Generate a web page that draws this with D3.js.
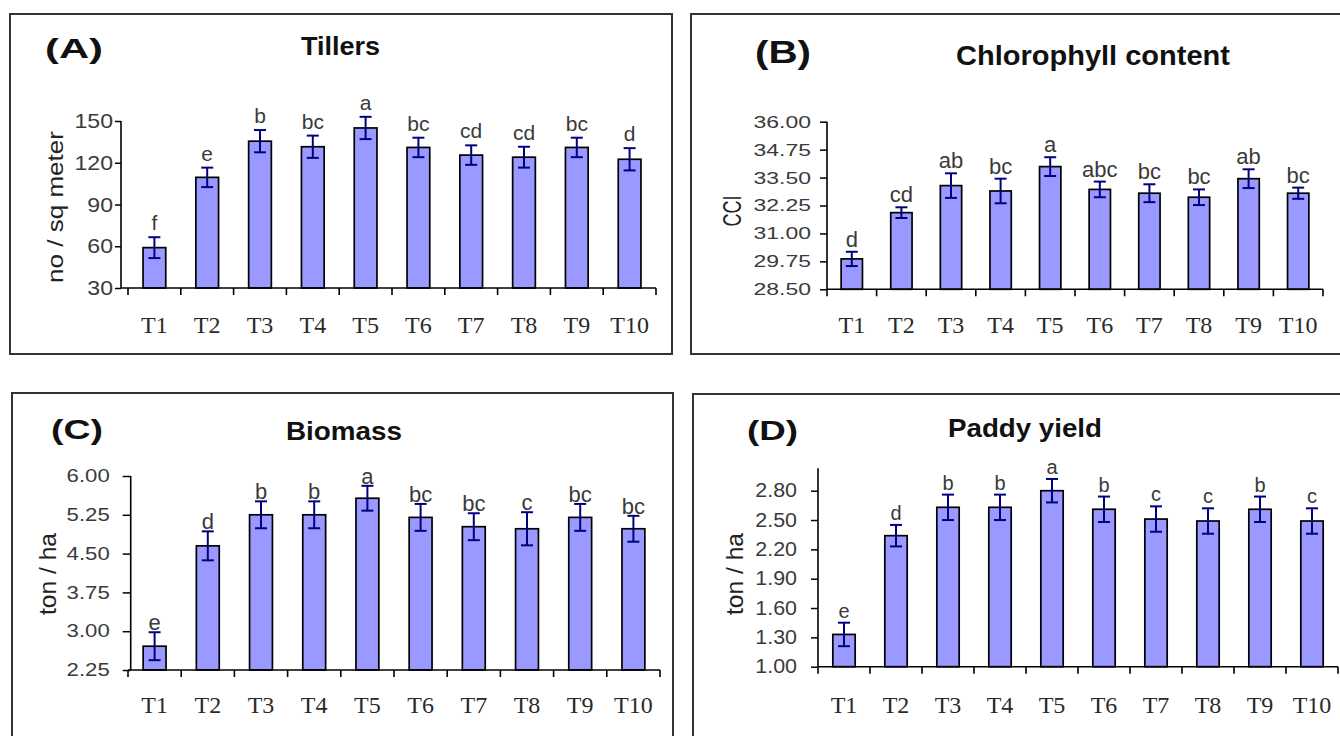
<!DOCTYPE html>
<html>
<head>
<meta charset="utf-8">
<script src="https://cdn.jsdelivr.net/npm/d3@7"></script>
<style>
  html, body { margin: 0; padding: 0; background: #fff; }
  svg { display: block; }
</style>
</head>
<body>
<svg id="chart" width="1340" height="736"></svg>
<script>
// Treatments shared by all four panels
const treatments = ["T1", "T2", "T3", "T4", "T5", "T6", "T7", "T8", "T9", "T10"];

// (A) Tillers, no / sq meter
const tillersMean    = [59, 109.5, 135.5, 131.5, 145, 131, 125.5, 124, 131, 122.5];
const tillersErr     = [7.5, 7, 8, 8, 8, 7, 7, 7.5, 7, 8];
const tillersLetters = ["f", "e", "b", "bc", "a", "bc", "cd", "cd", "bc", "d"];
const tillersTicks   = [30, 60, 90, 120, 150];

// (B) Chlorophyll content, CCI
const chlorophyllMean    = [29.86, 31.93, 33.14, 32.90, 33.99, 32.97, 32.80, 32.62, 33.45, 32.80];
const chlorophyllErr     = [0.32, 0.24, 0.55, 0.55, 0.42, 0.35, 0.40, 0.35, 0.42, 0.25];
const chlorophyllLetters = ["d", "cd", "ab", "bc", "a", "abc", "bc", "bc", "ab", "bc"];
const chlorophyllTicks   = [28.5, 29.75, 31, 32.25, 33.5, 34.75, 36];

// (C) Biomass, ton / ha
const biomassMean    = [2.71, 4.65, 5.25, 5.25, 5.57, 5.20, 5.02, 4.98, 5.20, 4.98];
const biomassErr     = [0.27, 0.28, 0.26, 0.26, 0.24, 0.26, 0.26, 0.32, 0.26, 0.25];
const biomassLetters = ["e", "d", "b", "b", "a", "bc", "bc", "c", "bc", "bc"];
const biomassTicks   = [2.25, 3, 3.75, 4.5, 5.25, 6];

// (D) Paddy yield, ton / ha
const yieldMean    = [1.33, 2.34, 2.63, 2.63, 2.80, 2.61, 2.51, 2.49, 2.61, 2.49];
const yieldErr     = [0.12, 0.11, 0.13, 0.13, 0.12, 0.13, 0.13, 0.13, 0.13, 0.13];
const yieldLetters = ["e", "d", "b", "b", "a", "b", "c", "c", "b", "c"];
const yieldTicks   = [1.0, 1.3, 1.6, 1.9, 2.2, 2.5, 2.8];

// Panel definitions: data plus frame geometry and type settings
const panels = [
  {
    tag: "(A)", title: "Tillers", yTitle: "no / sq meter",
    mean: tillersMean, err: tillersErr, letters: tillersLetters, ticks: tillersTicks,
    fmt: d3.format("d"), domain: [30, 150], axisTop: 150,
    box: [10, 14, 672, 354], axisX: 121, xRange: [128, 656], yRange: [288, 121],
    tag_: { x: 45, y: 58, size: 28, w: 58 },
    title_: { x: 301, y: 55, size: 26, w: 79 },
    yTitle_: { x: 63, y: 207, size: 22, w: 152 },
    yTick_: { size: 21, stretch: 1.1, len: 6, pad: 2 },
    xLabelY: 333, letterSize: 21, letterGap: 7
  },
  {
    tag: "(B)", title: "Chlorophyll content", yTitle: "CCI",
    mean: chlorophyllMean, err: chlorophyllErr, letters: chlorophyllLetters, ticks: chlorophyllTicks,
    fmt: d3.format(".2f"), domain: [28.5, 36], axisTop: 36,
    box: [691, 14, 1350, 354], axisX: 827, xRange: [827, 1323], yRange: [289.3, 121.7],
    tag_: { x: 755, y: 63, size: 31, w: 56 },
    title_: { x: 956, y: 65, size: 27, w: 274 },
    yTitle_: { x: 741, y: 211, size: 25, w: 31 },
    yTick_: { size: 17, stretch: 1.35, len: 7, pad: 9 },
    xLabelY: 333, letterSize: 22, letterGap: 5
  },
  {
    tag: "(C)", title: "Biomass", yTitle: "ton / ha",
    mean: biomassMean, err: biomassErr, letters: biomassLetters, ticks: biomassTicks,
    fmt: d3.format(".2f"), domain: [2.25, 6], axisTop: 6,
    box: [12, 393, 673, 750], axisX: 130.7, xRange: [128, 660], yRange: [670, 476],
    tag_: { x: 51, y: 439, size: 28, w: 52 },
    title_: { x: 286, y: 440, size: 25, w: 116 },
    yTitle_: { x: 56, y: 574, size: 24, w: 82 },
    yTick_: { size: 18, stretch: 1.23, len: 8, pad: 13 },
    xLabelY: 713, letterSize: 22, letterGap: 2
  },
  {
    tag: "(D)", title: "Paddy yield", yTitle: "ton / ha",
    mean: yieldMean, err: yieldErr, letters: yieldLetters, ticks: yieldTicks,
    fmt: d3.format(".2f"), domain: [1.0, 2.8], axisTop: 3.03,
    box: [693, 394, 1350, 750], axisX: 818, xRange: [818, 1338], yRange: [666.7, 490.7],
    tag_: { x: 747, y: 440, size: 28, w: 51 },
    title_: { x: 948, y: 437, size: 25, w: 154 },
    yTitle_: { x: 743, y: 574, size: 24, w: 82 },
    yTick_: { size: 19.5, stretch: 1.1, len: 7, pad: 14 },
    xLabelY: 713, letterSize: 20, letterGap: 5
  }
];

const BAR_FILL = "#9999ff";
const ERR_COLOR = "#000080";
const SANS = "'Liberation Sans', Arial, sans-serif";
const SERIF = "'Liberation Serif', 'Times New Roman', serif";

const svg = d3.select("#chart");
svg.append("rect").attr("width", 1340).attr("height", 736).attr("fill", "#fff");

// Force a text run to a given advance width
function fitTo(sel, width) {
  sel.attr("textLength", width).attr("lengthAdjust", "spacingAndGlyphs");
}
function stretch(sel, factor) {
  sel.each(function () {
    const w = this.getComputedTextLength();
    d3.select(this).attr("textLength", w * factor).attr("lengthAdjust", "spacingAndGlyphs");
  });
}

panels.forEach(p => {
  const g = svg.append("g");
  const [bx0, by0, bx1, by1] = p.box;

  // Panel frame
  g.append("rect")
    .attr("x", bx0).attr("y", by0)
    .attr("width", bx1 - bx0).attr("height", by1 - by0)
    .attr("fill", "#fff").attr("stroke", "#333").attr("stroke-width", 2);

  // Scales
  const x = d3.scaleBand()
    .domain(treatments)
    .range(p.xRange)
    .paddingInner(0.57)
    .paddingOuter(0.285);
  const y = d3.scaleLinear().domain(p.domain).range(p.yRange);
  const base = y(p.domain[0]);

  // Bars
  g.append("g").selectAll("rect")
    .data(treatments)
    .join("rect")
    .attr("x", (d) => x(d))
    .attr("width", x.bandwidth())
    .attr("y", (d, i) => y(p.mean[i]))
    .attr("height", (d, i) => base - y(p.mean[i]))
    .attr("fill", BAR_FILL)
    .attr("stroke", "#000")
    .attr("stroke-width", 1.7);

  // Error bars
  const eb = g.append("g")
    .attr("stroke", ERR_COLOR).attr("stroke-width", 2).attr("fill", "none");
  treatments.forEach((t, i) => {
    const cx = x(t) + x.bandwidth() / 2;
    const hi = y(p.mean[i] + p.err[i]);
    const lo = y(p.mean[i] - p.err[i]);
    eb.append("line").attr("x1", cx).attr("x2", cx).attr("y1", hi).attr("y2", lo);
    eb.append("line").attr("x1", cx - 6).attr("x2", cx + 6).attr("y1", hi).attr("y2", hi);
    eb.append("line").attr("x1", cx - 6).attr("x2", cx + 6).attr("y1", lo).attr("y2", lo);
  });

  // Significance letters
  g.append("g").selectAll("text")
    .data(treatments)
    .join("text")
    .attr("x", (d) => x(d) + x.bandwidth() / 2)
    .attr("y", (d, i) => y(p.mean[i] + p.err[i]) - p.letterGap)
    .attr("text-anchor", "middle")
    .attr("font-family", SANS)
    .attr("font-size", p.letterSize)
    .attr("fill", "#3a3a3a")
    .text((d, i) => p.letters[i]);

  // Y axis
  const yAxis = g.append("g")
    .attr("transform", `translate(${p.axisX},0)`)
    .call(d3.axisLeft(y)
      .tickValues(p.ticks)
      .tickFormat(p.fmt)
      .tickSize(p.yTick_.len)
      .tickPadding(p.yTick_.pad));
  yAxis.select(".domain").remove();
  yAxis.selectAll(".tick line").attr("stroke", "#000").attr("stroke-width", 1.5);
  yAxis.selectAll(".tick text")
    .attr("font-family", SANS)
    .attr("font-size", p.yTick_.size)
    .attr("fill", "#3a3a3a")
    .call(stretch, p.yTick_.stretch);
  g.append("line")
    .attr("x1", p.axisX).attr("x2", p.axisX)
    .attr("y1", base).attr("y2", y(p.axisTop))
    .attr("stroke", "#000").attr("stroke-width", 1.6);

  // X axis: line, category boundary ticks, treatment labels
  g.append("line")
    .attr("x1", Math.min(p.axisX, p.xRange[0])).attr("x2", p.xRange[1])
    .attr("y1", base).attr("y2", base)
    .attr("stroke", "#000").attr("stroke-width", 1.6);
  const bounds = d3.range(treatments.length + 1).map(i => p.xRange[0] + i * x.step());
  g.append("g").selectAll("line")
    .data(bounds)
    .join("line")
    .attr("x1", d => d).attr("x2", d => d)
    .attr("y1", base).attr("y2", base + 7)
    .attr("stroke", "#000").attr("stroke-width", 1.6);

  const xAxis = g.append("g")
    .attr("transform", `translate(0,${base})`)
    .call(d3.axisBottom(x).tickSize(0).tickSizeOuter(0));
  xAxis.select(".domain").remove();
  xAxis.selectAll(".tick text")
    .attr("y", p.xLabelY - base)
    .attr("dy", null)
    .attr("font-family", SERIF)
    .attr("font-size", 24)
    .attr("fill", "#2a2a2a");

  // Y axis title
  g.append("text")
    .attr("transform", `translate(${p.yTitle_.x},${p.yTitle_.y}) rotate(-90)`)
    .attr("text-anchor", "middle")
    .attr("font-family", SANS)
    .attr("font-size", p.yTitle_.size)
    .attr("fill", "#222")
    .text(p.yTitle)
    .call(fitTo, p.yTitle_.w);

  // Panel tag and title
  g.append("text")
    .attr("x", p.tag_.x).attr("y", p.tag_.y)
    .attr("font-family", SANS).attr("font-weight", "bold")
    .attr("font-size", p.tag_.size)
    .attr("fill", "#111")
    .text(p.tag)
    .call(fitTo, p.tag_.w);
  g.append("text")
    .attr("x", p.title_.x).attr("y", p.title_.y)
    .attr("font-family", SANS).attr("font-weight", "bold")
    .attr("font-size", p.title_.size)
    .attr("fill", "#111")
    .text(p.title)
    .call(fitTo, p.title_.w);
});
</script>
</body>
</html>
